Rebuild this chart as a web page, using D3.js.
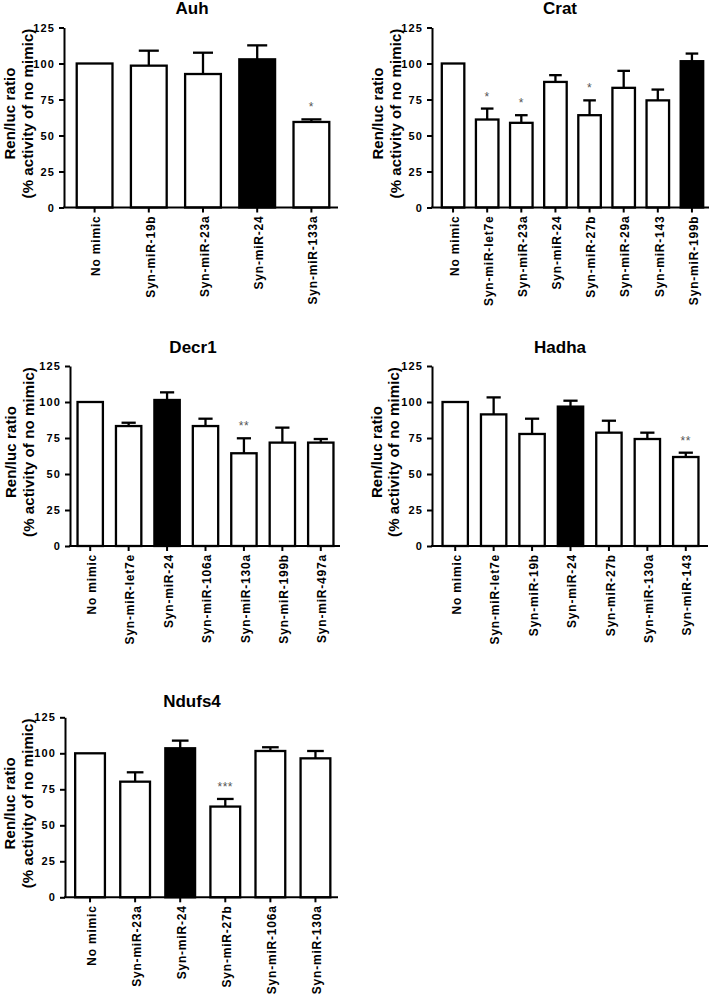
<!DOCTYPE html>
<html><head><meta charset="utf-8">
<script src="https://cdn.jsdelivr.net/npm/d3@7"></script>
<style>body{margin:0;background:#fff} svg{display:block}</style>
</head><body>
<svg id="c" width="709" height="995"></svg>
<script>
// ---------- data ----------
const yTicks = [0, 25, 50, 75, 100, 125];
const yLabelLines = ["Ren/luc ratio", "(% activity of no mimic)"];

const auhTitle = "Auh";
const auhCategories = ["No mimic", "Syn-miR-19b", "Syn-miR-23a", "Syn-miR-24", "Syn-miR-133a"];
const auhMeans = [100, 98.5, 92.7, 102.9, 59.4];
const auhErrors = [0, 10.4, 14.8, 9.7, 1.8];
const auhSig = ["", "", "", "", "*"];
const auhHighlight = "Syn-miR-24";

const cratTitle = "Crat";
const cratCategories = ["No mimic", "Syn-miR-let7e", "Syn-miR-23a", "Syn-miR-24", "Syn-miR-27b", "Syn-miR-29a", "Syn-miR-143", "Syn-miR-199b"];
const cratMeans = [100, 61.1, 58.8, 87.2, 64.1, 83.1, 74.4, 101.6];
const cratErrors = [0, 7.6, 5.3, 4.7, 10.3, 11.8, 7.5, 5.3];
const cratSig = ["", "*", "*", "", "*", "", "", ""];
const cratHighlight = "Syn-miR-199b";

const decr1Title = "Decr1";
const decr1Categories = ["No mimic", "Syn-miR-let7e", "Syn-miR-24", "Syn-miR-106a", "Syn-miR-130a", "Syn-miR-199b", "Syn-miR-497a"];
const decr1Means = [100, 83.3, 101.4, 83.3, 64.4, 71.8, 71.8];
const decr1Errors = [0, 2.3, 5.3, 5.1, 10.4, 10.4, 2.5];
const decr1Sig = ["", "", "", "", "**", "", ""];
const decr1Highlight = "Syn-miR-24";

const hadhaTitle = "Hadha";
const hadhaCategories = ["No mimic", "Syn-miR-let7e", "Syn-miR-19b", "Syn-miR-24", "Syn-miR-27b", "Syn-miR-130a", "Syn-miR-143"];
const hadhaMeans = [100, 91.4, 77.8, 96.8, 78.7, 74.3, 61.8];
const hadhaErrors = [0, 11.8, 10.6, 4.1, 8.3, 4.4, 3.0];
const hadhaSig = ["", "", "", "", "", "", "**"];
const hadhaHighlight = "Syn-miR-24";

const ndufs4Title = "Ndufs4";
const ndufs4Categories = ["No mimic", "Syn-miR-23a", "Syn-miR-24", "Syn-miR-27b", "Syn-miR-106a", "Syn-miR-130a"];
const ndufs4Means = [100, 80.3, 103.5, 63.0, 101.6, 96.5];
const ndufs4Errors = [0, 6.5, 5.3, 5.3, 2.6, 5.1];
const ndufs4Sig = ["", "", "", "***", "", ""];
const ndufs4Highlight = "Syn-miR-24";

// ---------- layout ----------
const panels = [
  {title: auhTitle, cats: auhCategories, means: auhMeans, errs: auhErrors, sig: auhSig, hi: auhHighlight,
   x0: 64, x1: 338, b0: 67.5, b1: 338.5, yTop: 27.5, yBot: 207.5, tx: 192, ty: 14, lab: [54, 36]},
  {title: cratTitle, cats: cratCategories, means: cratMeans, errs: cratErrors, sig: cratSig, hi: cratHighlight,
   x0: 432, x1: 709, b0: 436, b1: 709, yTop: 27.5, yBot: 207.5, tx: 560, ty: 14, lab: [54, 36]},
  {title: decr1Title, cats: decr1Categories, means: decr1Means, errs: decr1Errors, sig: decr1Sig, hi: decr1Highlight,
   x0: 70, x1: 340, b0: 71, b1: 340, yTop: 366, yBot: 546, tx: 193, ty: 353, lab: [59, 41]},
  {title: hadhaTitle, cats: hadhaCategories, means: hadhaMeans, errs: hadhaErrors, sig: hadhaSig, hi: hadhaHighlight,
   x0: 432, x1: 708, b0: 436, b1: 705, yTop: 366, yBot: 546, tx: 560, ty: 353, lab: [55, 38]},
  {title: ndufs4Title, cats: ndufs4Categories, means: ndufs4Means, errs: ndufs4Errors, sig: ndufs4Sig, hi: ndufs4Highlight,
   x0: 65, x1: 338, b0: 67.5, b1: 338, yTop: 717.3, yBot: 897.3, tx: 192, ty: 706.5, lab: [55, 37]}
];

const FONT = "'Liberation Sans', Arial, Helvetica, sans-serif";
const svg = d3.select("#c");

panels.forEach(p => {
  const g = svg.append("g");
  const x = d3.scaleBand().domain(p.cats).range([p.b0, p.b1]).paddingInner(0.34).paddingOuter(0.17);
  const y = d3.scaleLinear().domain([0, 125]).range([p.yBot, p.yTop]);
  const bw = x.bandwidth();

  // title
  g.append("text").attr("x", p.tx).attr("y", p.ty).attr("text-anchor", "middle")
    .attr("font-family", FONT).attr("font-weight", "bold").attr("font-size", 17).text(p.title);

  // y axis label
  const cy = (p.yTop + p.yBot) / 2 - 4;
  yLabelLines.forEach((t, i) => {
    g.append("text").attr("transform", `translate(${p.x0 - p.lab[i]},${cy}) rotate(-90)`)
      .attr("text-anchor", "middle").attr("dy", "0.35em")
      .attr("font-family", FONT).attr("font-weight", "bold").attr("font-size", 15)
      .attr("letter-spacing", "0.1px").text(t);
  });

  // error bars
  p.cats.forEach((c, i) => {
    if (p.errs[i] <= 0) return;
    const cx = x(c) + bw / 2;
    g.append("line").attr("x1", cx).attr("x2", cx).attr("y1", y(p.means[i])).attr("y2", y(p.means[i] + p.errs[i]))
      .attr("stroke", "#000").attr("stroke-width", 2.3);
    g.append("line").attr("x1", cx - bw * 0.28).attr("x2", cx + bw * 0.28)
      .attr("y1", y(p.means[i] + p.errs[i])).attr("y2", y(p.means[i] + p.errs[i]))
      .attr("stroke", "#000").attr("stroke-width", 2.3);
  });

  // bars
  g.selectAll("rect.bar").data(p.cats).enter().append("rect")
    .attr("x", c => x(c)).attr("width", bw)
    .attr("y", (c, i) => y(p.means[i])).attr("height", (c, i) => y(0) - y(p.means[i]))
    .attr("fill", c => c === p.hi ? "#000" : "#fff")
    .attr("stroke", "#000").attr("stroke-width", 2.3);

  // significance
  p.cats.forEach((c, i) => {
    if (!p.sig[i]) return;
    g.append("text").attr("x", x(c) + bw / 2).attr("y", y(p.means[i] + p.errs[i]) - 8)
      .attr("text-anchor", "middle").attr("font-family", FONT).attr("font-size", 12)
      .attr("letter-spacing", "0.5px").attr("fill", "#555").text(p.sig[i]);
  });

  // y axis
  const ya = g.append("g").attr("transform", `translate(${p.x0},0)`)
    .call(d3.axisLeft(y).tickValues(yTicks).tickSize(5).tickSizeOuter(0).tickPadding(4));
  ya.select(".domain").attr("stroke-width", 2);
  ya.selectAll(".tick line").attr("stroke-width", 2);
  ya.selectAll(".tick text").attr("font-family", FONT).attr("font-weight", "bold")
    .attr("font-size", 11).attr("letter-spacing", "1.1px").attr("fill", "#000");

  // x axis
  const xa = g.append("g").attr("transform", `translate(0,${p.yBot})`)
    .call(d3.axisBottom(x).tickSize(5).tickSizeOuter(0));
  xa.select(".domain").remove();
  xa.selectAll(".tick line").attr("stroke-width", 2);
  xa.selectAll(".tick text")
    .attr("transform", "translate(1.5,8) rotate(-90)")
    .attr("x", 0).attr("y", 0).attr("dy", "0.35em")
    .attr("text-anchor", "end")
    .attr("font-family", FONT).attr("font-weight", "bold")
    .attr("font-size", 12).attr("letter-spacing", "0.8px").attr("fill", "#000");
  g.append("line").attr("x1", p.x0 - 1).attr("x2", p.x1).attr("y1", p.yBot).attr("y2", p.yBot)
    .attr("stroke", "#000").attr("stroke-width", 2);
});
</script>
</body></html>
